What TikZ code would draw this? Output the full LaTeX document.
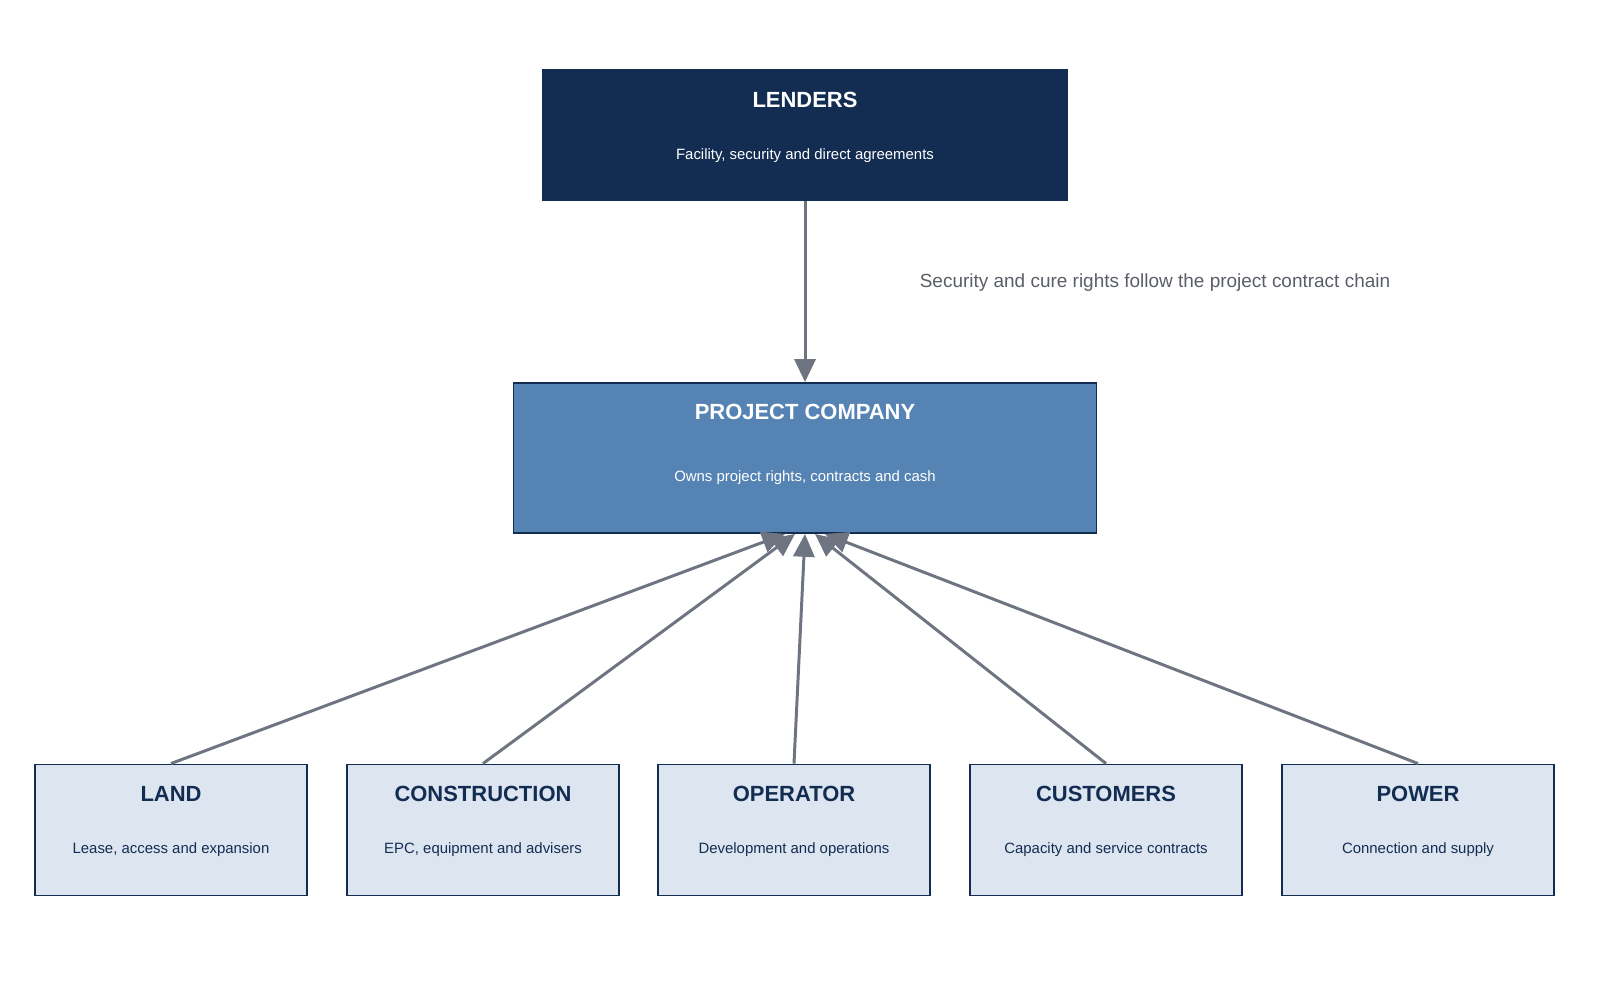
\documentclass[tikz,border=0pt]{standalone}
\usepackage{fontspec}
\setmainfont{Liberation Sans}
\usetikzlibrary{arrows.meta}
\definecolor{navy}{HTML}{132D52}
\definecolor{steel}{HTML}{5583B4}
\definecolor{pale}{HTML}{DDE5F0}
\definecolor{link}{HTML}{6F7580}
\tikzset{
  box/.style={draw=navy, line width=1.1pt, inner sep=0pt},
  title/.style={font=\bfseries\fontsize{12.5}{14}\selectfont},
  sub/.style={font=\fontsize{8.5}{10}\selectfont},
  flow/.style={draw=link, line width=1.7pt, -{Triangle[length=13pt,width=12pt]}}
}
\begin{document}
\begin{tikzpicture}[x=0.02cm, y=-0.02cm]
  \useasboundingbox (0, 0) rectangle (1600, 1000);
  \node [box, fill=navy, minimum width=524*0.02cm, minimum height=131*0.02cm] (lenders) at (805, 135) {};
  \node [box, fill=steel, minimum width=583*0.02cm, minimum height=150*0.02cm] (pc) at (805, 458) {};
  \node [title, white] at (805, 100) {LENDERS};
  \node [sub, white] at (805, 156) {Facility, security and direct agreements};
  \node [title, white] at (805, 412) {PROJECT COMPANY};
  \node [sub, white] at (805, 478) {Owns project rights, contracts and cash};
  \foreach \name/\x/\head/\desc/\dx in {
      land/171/LAND/{Lease, access and expansion}/-20,
      construction/483/CONSTRUCTION/{EPC, equipment and advisers}/-10,
      operator/794/OPERATOR/{Development and operations}/0,
      customers/1106/CUSTOMERS/{Capacity and service contracts}/10,
      power/1418/POWER/{Connection and supply}/20} {
    \node [box, fill=pale, minimum width=272*0.02cm, minimum height=131*0.02cm] (\name) at (\x, 830) {};
    \node [title, navy] at (\x, 794) {\head};
    \node [sub, navy] at (\x, 850) {\desc};
    \draw [flow] (\name.north) -- ([xshift=\dx*0.02cm]pc.south);
  }
  \draw [flow] (lenders.south) -- (pc.north);
  \node [font=\fontsize{10.8}{13}\selectfont, text=link!80!black] (note) at (1155, 283) {Security and cure rights follow the project contract chain};
\end{tikzpicture}
\end{document}
